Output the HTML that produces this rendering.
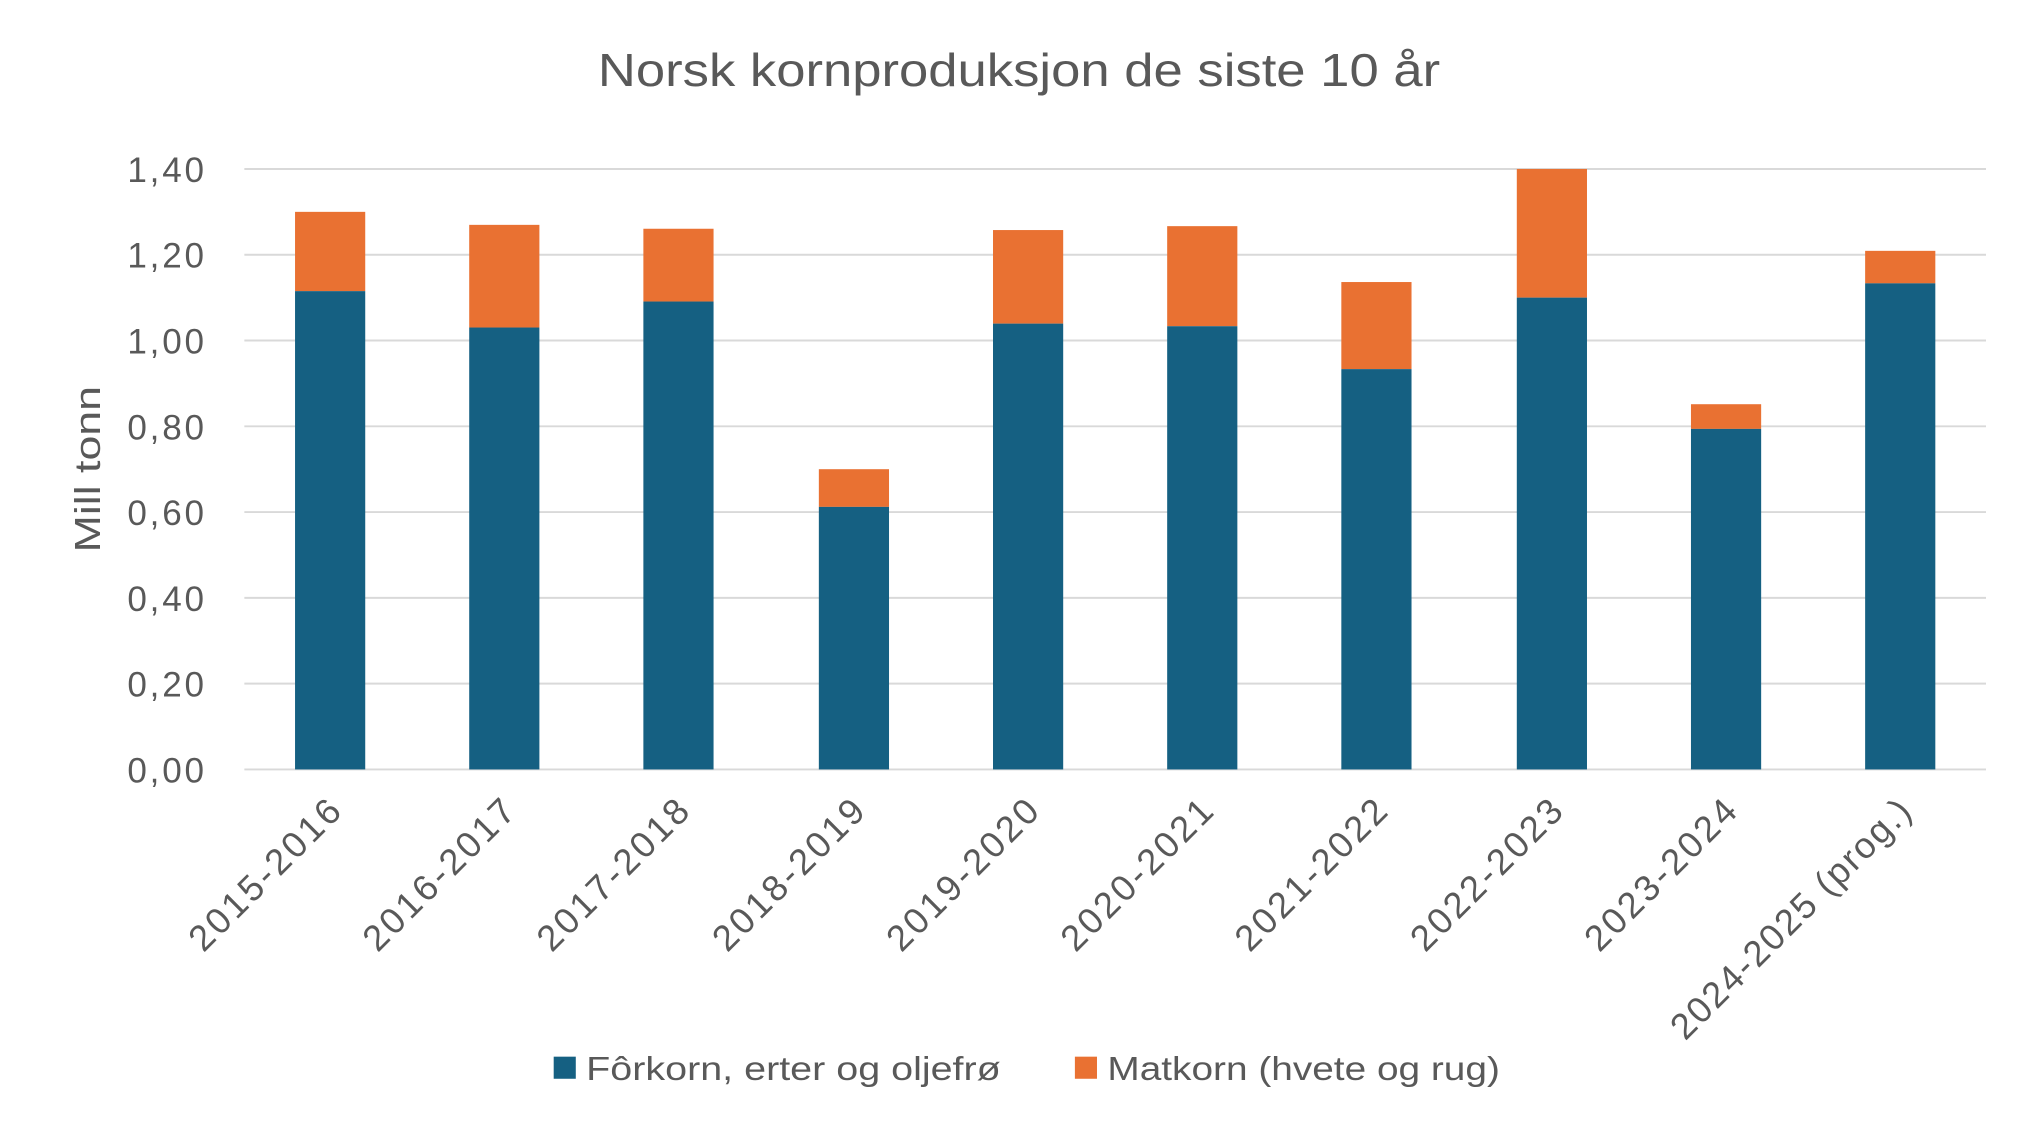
<!DOCTYPE html>
<html><head><meta charset="utf-8"><style>html,body{margin:0;padding:0;background:#fff}svg{display:block}</style></head>
<body>
<svg width="2038" height="1134" viewBox="0 0 1568 872.5" preserveAspectRatio="none" xmlns="http://www.w3.org/2000/svg" font-family="Liberation Sans, sans-serif" fill="#595959">
<rect width="1568" height="872.5" fill="#fff"/>
<text x="460" y="66" font-size="36" textLength="648" lengthAdjust="spacingAndGlyphs">Norsk kornproduksjon de siste 10 år</text>
<g stroke="#d9d9d9" stroke-width="1.5">
<line x1="188" x2="1528" y1="130" y2="130"/><line x1="188" x2="1528" y1="196" y2="196"/>
<line x1="188" x2="1528" y1="262" y2="262"/><line x1="188" x2="1528" y1="328" y2="328"/>
<line x1="188" x2="1528" y1="394" y2="394"/><line x1="188" x2="1528" y1="460" y2="460"/>
<line x1="188" x2="1528" y1="526" y2="526"/><line x1="188" x2="1528" y1="592" y2="592"/>
</g>
<g font-size="27" lengthAdjust="spacingAndGlyphs">
<text x="98" y="140" textLength="59">1,40</text><text x="98" y="206" textLength="59">1,20</text><text x="98" y="272" textLength="59">1,00</text>
<text x="98" y="338" textLength="59">0,80</text><text x="98" y="404" textLength="59">0,60</text><text x="98" y="470" textLength="59">0,40</text>
<text x="98" y="536" textLength="59">0,20</text><text x="98" y="602" textLength="59">0,00</text>
</g>
<text transform="translate(77,361) rotate(-90)" font-size="28" text-anchor="middle" textLength="128" lengthAdjust="spacingAndGlyphs">Mill tonn</text>
<g>
<rect x="227" y="163" width="54" height="61" fill="#E97132"/><rect x="227" y="224" width="54" height="368" fill="#156082"/>
<rect x="361" y="173" width="54" height="79" fill="#E97132"/><rect x="361" y="252" width="54" height="340" fill="#156082"/>
<rect x="495" y="176" width="54" height="56" fill="#E97132"/><rect x="495" y="232" width="54" height="360" fill="#156082"/>
<rect x="630" y="361" width="54" height="29" fill="#E97132"/><rect x="630" y="390" width="54" height="202" fill="#156082"/>
<rect x="764" y="177" width="54" height="72" fill="#E97132"/><rect x="764" y="249" width="54" height="343" fill="#156082"/>
<rect x="898" y="174" width="54" height="77" fill="#E97132"/><rect x="898" y="251" width="54" height="341" fill="#156082"/>
<rect x="1032" y="217" width="54" height="67" fill="#E97132"/><rect x="1032" y="284" width="54" height="308" fill="#156082"/>
<rect x="1167" y="130" width="54" height="99" fill="#E97132"/><rect x="1167" y="229" width="54" height="363" fill="#156082"/>
<rect x="1301" y="311" width="54" height="19" fill="#E97132"/><rect x="1301" y="330" width="54" height="262" fill="#156082"/>
<rect x="1435" y="193" width="54" height="25" fill="#E97132"/><rect x="1435" y="218" width="54" height="374" fill="#156082"/>
</g>
<g font-size="28" text-anchor="end" lengthAdjust="spacingAndGlyphs">
<text transform="translate(264,626) rotate(-45)" textLength="152">2015-2016</text>
<text transform="translate(398,626) rotate(-45)" textLength="152">2016-2017</text>
<text transform="translate(532,626) rotate(-45)" textLength="152">2017-2018</text>
<text transform="translate(667,626) rotate(-45)" textLength="152">2018-2019</text>
<text transform="translate(801,626) rotate(-45)" textLength="152">2019-2020</text>
<text transform="translate(935,626) rotate(-45)" textLength="152">2020-2021</text>
<text transform="translate(1069,626) rotate(-45)" textLength="152">2021-2022</text>
<text transform="translate(1204,626) rotate(-45)" textLength="152">2022-2023</text>
<text transform="translate(1338,626) rotate(-45)" textLength="152">2023-2024</text>
<text transform="translate(1472,626) rotate(-45)" textLength="248">2024-2025 (prog.)</text>
</g>
<rect x="426" y="813" width="17" height="17" fill="#156082"/>
<text x="451" y="831" font-size="26" textLength="319" lengthAdjust="spacingAndGlyphs">Fôrkorn, erter og oljefrø</text>
<rect x="827" y="813" width="17" height="17" fill="#E97132"/>
<text x="852" y="831" font-size="26" textLength="302" lengthAdjust="spacingAndGlyphs">Matkorn (hvete og rug)</text>
</svg>
</body></html>
